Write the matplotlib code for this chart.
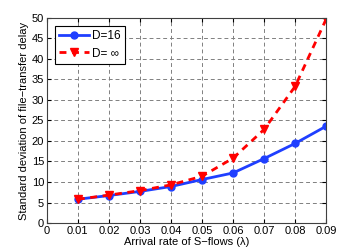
import numpy as np
import matplotlib
matplotlib.use('Agg')
import matplotlib.pyplot as plt

plt.rcParams['font.family'] = ['Liberation Sans', 'DejaVu Sans']

rates = [0.01, 0.02, 0.03, 0.04, 0.05, 0.06, 0.07, 0.08, 0.09]
std_d16 = [5.8, 6.7, 7.7, 8.9, 10.6, 12.2, 15.7, 19.4, 23.6]
std_dinf = [5.8, 6.8, 7.9, 9.3, 11.4, 15.8, 22.8, 33.3, 49.7]

fig = plt.figure(figsize=(3.6, 2.52), dpi=100)
ax = fig.add_axes([0.13, 0.115, 0.776, 0.814])

ax.plot(rates, std_d16, color='#1f3fff', marker='o', markersize=5,
        linewidth=2, linestyle='-', label='D=16')
ax.plot(rates, std_dinf, color='#ff0000', marker='v', markersize=6,
        linewidth=2, linestyle=(0, (2.5, 2)), label='D= \u221e')

ax.set_xlim(0, 0.09)
ax.set_ylim(0, 50)
ax.set_xticks(np.arange(0, 0.091, 0.01))
ax.set_xticklabels(['0'] + ['%.2f' % r for r in np.arange(0.01, 0.091, 0.01)])
ax.set_yticks(range(0, 51, 5))
ax.tick_params(direction='in', labelsize=8, length=3, top=True, right=True, pad=2)
ax.grid(True, color='#808080', linestyle=(0, (4, 3)), linewidth=0.7)
for s in ax.spines.values():
    s.set_color('#404040')
    s.set_linewidth(0.8)

ax.set_xlabel('Arrival rate of S\u2212flows (\u03bb)', fontsize=8, labelpad=1)
ax.set_ylabel('Standard deviation of file\u2212transfer delay', fontsize=8, labelpad=2)

leg = ax.legend(loc='upper left', fontsize=8.5, fancybox=False, framealpha=1,
                edgecolor='black', borderpad=0.35, handlelength=2.5,
                bbox_to_anchor=(0.03, 0.96), labelspacing=0.45,
                borderaxespad=0, handletextpad=0.3)
leg.get_frame().set_linewidth(0.8)

fig.savefig('out.png', dpi=100)
